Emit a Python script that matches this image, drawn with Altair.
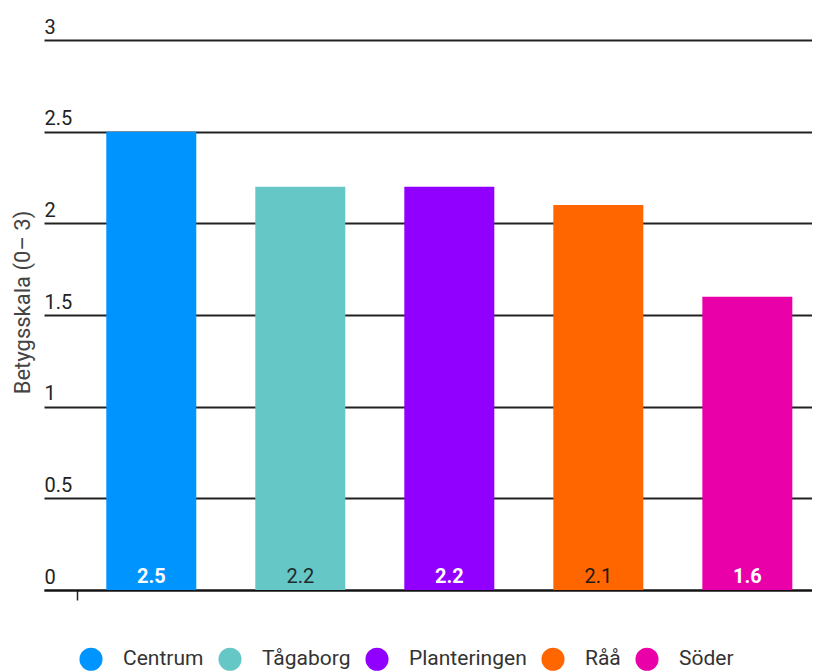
import altair as alt
import pandas as pd

categories = ["Centrum", "Tågaborg", "Planteringen", "Råå", "Söder"]
values = [2.5, 2.2, 2.2, 2.1, 1.6]
colors = ["#0094ff", "#66c7c7", "#9100ff", "#ff6600", "#ea00a8"]
label_colors = ["#ffffff", "#1e2b2b", "#ffffff", "#1e1a17", "#ffffff"]
label_bold = [True, False, True, False, True]
y_ticks = [0, 0.5, 1, 1.5, 2, 2.5, 3]
y_title = "Betygsskala (0– 3)"

df = pd.DataFrame({
    "omrade": categories,
    "betyg": values,
    "labelcolor": label_colors,
    "bold": label_bold,
})

FONT = "Roboto"

x_enc = alt.X(
    "omrade:N",
    sort=categories,
    scale=alt.Scale(paddingInner=0.396, paddingOuter=0.275, align=0.76),
    axis=alt.Axis(
        title=None,
        labels=False,
        values=["Centrum"],
        tickOffset=-74.5,
        tickSize=10,
        tickWidth=1.5,
        tickColor="#222222",
        domain=True,
        domainColor="#111111",
        domainWidth=2,
        grid=False,
    ),
)

y_scale = alt.Scale(domain=[0, 3], nice=False)
y_axis = alt.Axis(
    values=y_ticks,
    format="~g",
    title=y_title,
    titleFont=FONT,
    titleFontSize=22,
    titleFontWeight="normal",
    titleColor="#444444",
    titleAngle=270,
    titleX=-22,
    titleY=262,
    titleAlign="center",
    titleBaseline="middle",
    labelAlign="left",
    labelBaseline="alphabetic",
    labelPadding=0,
    labelOffset=-7,
    labelFont=FONT,
    labelFontSize=20,
    labelColor="#222222",
    ticks=False,
    tickSize=0,
    domain=False,
    grid=True,
    gridColor="#222222",
    gridWidth=2,
)

base = alt.Chart(df).encode(x=x_enc)

bars = base.mark_bar().encode(
    y=alt.Y("betyg:Q", scale=y_scale, axis=y_axis),
    color=alt.Color(
        "omrade:N",
        sort=categories,
        scale=alt.Scale(domain=categories, range=colors),
        legend=alt.Legend(
            title=None,
            orient="none",
            direction="horizontal",
            legendX=35,
            legendY=607,
            symbolType="circle",
            symbolSize=530,
            symbolStrokeWidth=0,
            labelFont=FONT,
            labelFontSize=21,
            labelColor="#333333",
            labelOffset=20,
            columnPadding=14,
        ),
    ),
)

text_bold = base.transform_filter("datum.bold").mark_text(
    font=FONT, fontSize=20, fontWeight="bold", baseline="alphabetic", dy=-7
).encode(
    y=alt.Y(datum=0, scale=y_scale, axis=y_axis),
    text=alt.Text("betyg:Q", format=".1f"),
    color=alt.Color("labelcolor:N", scale=None),
)

text_reg = base.transform_filter("!datum.bold").mark_text(
    font=FONT, fontSize=20, fontWeight="normal", baseline="alphabetic", dy=-7
).encode(
    y=alt.Y(datum=0, scale=y_scale, axis=y_axis),
    text=alt.Text("betyg:Q", format=".1f"),
    color=alt.Color("labelcolor:N", scale=None),
)

chart = (
    alt.layer(bars, text_bold, text_reg)
    .properties(
        width=768,
        height=550,
        padding={"left": 3, "top": 9, "right": 0, "bottom": 0},
    )
    .configure(font=FONT)
    .configure_view(stroke=None, strokeWidth=0)
)

chart.save("out.html", embed_options={"renderer": "svg", "actions": False})
